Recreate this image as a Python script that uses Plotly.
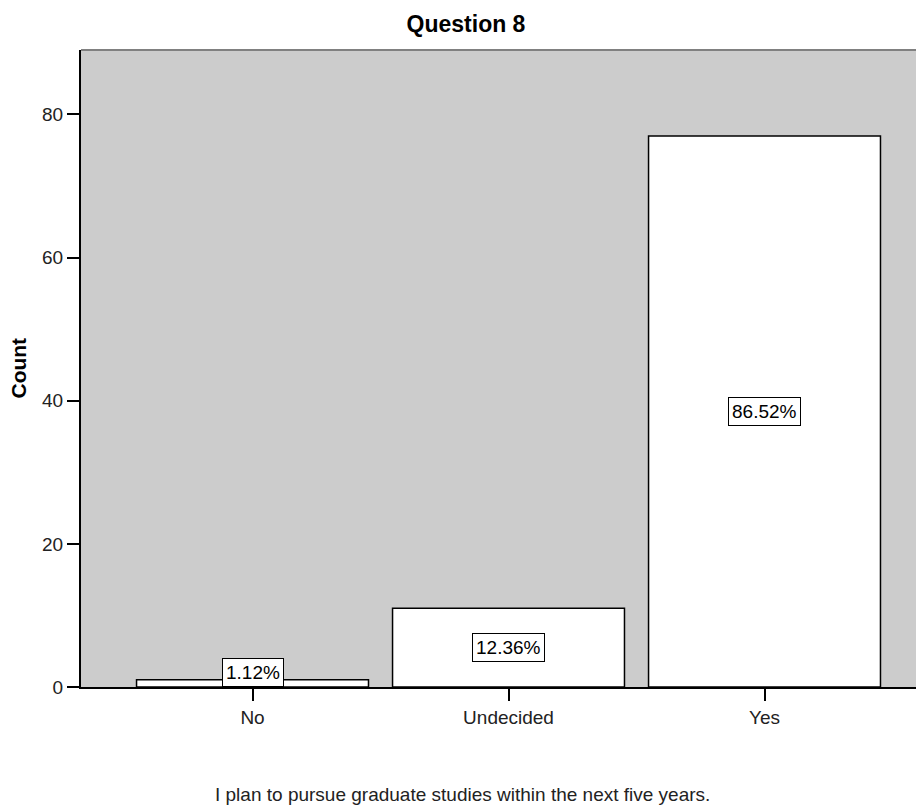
import plotly.graph_objects as go

categories = ["No", "Undecided", "Yes"]
counts = [1, 11, 77]
pct_labels = ["1.12%", "12.36%", "86.52%"]
y_ticks = [0, 20, 40, 60, 80]

FONT = "Liberation Sans, Arial, sans-serif"
TXT = "#222222"

fig = go.Figure()
fig.add_trace(go.Bar(
    x=[0, 1, 2], y=counts, width=0.906,
    marker=dict(color="white", line=dict(color="black", width=1.5)),
    hoverinfo="skip",
))

# percentage labels, centred in each bar (kept above the baseline for tiny bars)
for i, (v, lab) in enumerate(zip(counts, pct_labels)):
    small = v / 2 < 2.4
    fig.add_annotation(
        x=i, y=0 if small else v / 2, text=lab, showarrow=False,
        xref="x", yref="y", yanchor="bottom" if small else "middle",
        font=dict(family=FONT, size=19, color="black"),
        bgcolor="white", bordercolor="black", borderwidth=1, borderpad=3,
    )

# axis titles
fig.add_annotation(
    text="<b>Count</b>", xref="paper", yref="paper", x=-0.0747, y=0.5,
    xanchor="center", yanchor="middle", textangle=-90, showarrow=False,
    font=dict(family=FONT, size=21, color="black"),
)
fig.add_annotation(
    text="I plan to pursue graduate studies within the next five years.",
    xref="paper", yref="paper", x=0.452, y=-0.168,
    xanchor="center", yanchor="middle", showarrow=False,
    font=dict(family=FONT, size=19, color=TXT),
)

fig.update_layout(
    width=916, height=799,
    margin=dict(l=73, r=0, t=42, b=120),
    plot_bgcolor="#cccccc", paper_bgcolor="white",
    showlegend=False,
    title=dict(text="<b>Question 8</b>", x=0.5, xanchor="center", y=0.9806, yanchor="middle",
               font=dict(family=FONT, size=23, color="black")),
    font=dict(family=FONT, size=19, color=TXT),
)
fig.update_xaxes(
    range=[-0.670, 2.623], tickmode="array", tickvals=[0, 1, 2], ticktext=categories,
    showgrid=False, zeroline=False, showline=True, linecolor="black", linewidth=2,
    ticks="outside", ticklen=12, tickcolor="black", tickwidth=1.5,
    tickfont=dict(family=FONT, size=19, color=TXT),
)
fig.update_yaxes(
    range=[0, 89.0], tickvals=y_ticks,
    showgrid=False, zeroline=False, showline=True, linecolor="black", linewidth=2,
    ticks="outside", ticklen=12, tickcolor="black", tickwidth=1.5,
    tickfont=dict(family=FONT, size=19, color=TXT),
)
# top border of plot area
fig.add_shape(type="line", xref="paper", yref="paper", x0=0, x1=1, y0=1, y1=1,
              line=dict(color="#808080", width=2))

fig.write_html("out.html")
